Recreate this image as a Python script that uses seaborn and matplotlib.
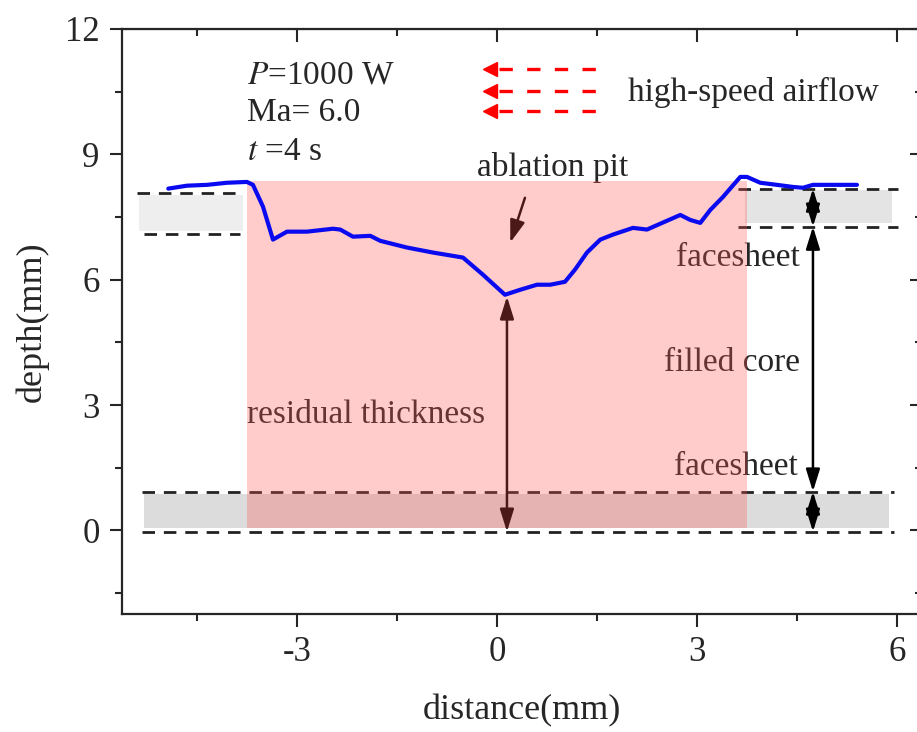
import matplotlib
matplotlib.use("Agg")
import matplotlib.pyplot as plt
import seaborn as sns
import pandas as pd
from matplotlib.ticker import MultipleLocator

# surface profile after ablation (mm)
prof_x = [-4.93, -4.65, -4.35, -4.05, -3.75, -3.66, -3.51, -3.36, -3.15, -2.85,
          -2.46, -2.35, -2.16, -1.90, -1.75, -1.35, -0.96, -0.51, -0.21, 0.12,
          0.35, 0.60, 0.80, 1.02, 1.17, 1.35, 1.55, 1.74, 2.04, 2.25,
          2.45, 2.75, 2.90, 3.05, 3.20, 3.39, 3.65, 3.75, 3.95, 4.20,
          4.44, 4.59, 4.74, 5.04, 5.40]
prof_y = [8.18, 8.25, 8.27, 8.32, 8.34, 8.27, 7.75, 6.96, 7.15, 7.15,
          7.22, 7.20, 7.03, 7.05, 6.93, 6.77, 6.65, 6.53, 6.12, 5.64,
          5.76, 5.88, 5.88, 5.95, 6.24, 6.65, 6.96, 7.08, 7.24, 7.20,
          7.34, 7.55, 7.43, 7.36, 7.67, 7.98, 8.46, 8.46, 8.32, 8.27,
          8.22, 8.20, 8.27, 8.27, 8.27]

# facesheet bands: (x0, x1, y0, y1, gray)
band_left = (-5.37, -3.81, 7.17, 8.03, "#eeeeee")
band_right = (3.72, 5.92, 7.36, 8.15, "#e4e4e4")
band_bottom = (-5.30, 5.88, 0.06, 0.86, "#dcdcdc")

# dashed boundary lines: (x0, x1, y)
dash_lines = [(-5.40, -3.90, 8.08), (-5.30, -3.85, 7.10),
              (3.62, 6.02, 8.18), (3.62, 6.02, 7.27),
              (-5.33, 5.95, 0.93), (-5.33, 5.95, -0.03)]

# ablation zone
pit_x = [-3.75, 3.75]
pit_top = 8.37
pit_bottom = 0.05

# airflow arrows
flow_y = [11.04, 10.52, 10.04]
flow_x0, flow_x1 = -0.22, 1.65

# dimension arrows (x, y_top, y_bottom)
dims = [(0.15, 5.60, -0.03), (4.74, 8.18, 7.27), (4.74, 7.27, 0.93), (4.74, 0.93, -0.03)]

sns.set_style("ticks")
plt.rcParams["font.family"] = ["Liberation Serif", "DejaVu Serif"]
plt.rcParams["mathtext.fontset"] = "stix"
plt.rcParams["axes.unicode_minus"] = False

fig = plt.figure(figsize=(9.17, 7.32), dpi=100)
ax = fig.add_axes([0.133, 0.1612, 0.8724, 0.7992])

# gray facesheet bands
for x0, x1, y0, y1, c in (band_left, band_right, band_bottom):
    ax.fill_between([x0, x1], y0, y1, color=c, lw=0, zorder=1)

for x0, x1, y in dash_lines:
    ax.plot([x0, x1], [y, y], color="#222222", lw=2.0, ls=(0, (4.5, 3.2)), zorder=2)

# profile
df = pd.DataFrame({"distance": prof_x, "depth": prof_y})
sns.lineplot(data=df, x="distance", y="depth", color="#0a0af0", lw=3.0,
             estimator=None, sort=False, ax=ax, zorder=6)

# pink ablation overlay drawn on top of the annotations
ax.fill_between(pit_x, pit_bottom, pit_top, color="#ff5555", alpha=0.3, lw=0, zorder=5)

# dimension arrows
for x, yt, yb in dims:
    ax.annotate("", xy=(x, yt), xytext=(x, yb),
                arrowprops=dict(arrowstyle="<|-|>,head_length=0.9,head_width=0.28",
                                mutation_scale=15, lw=1.8, color="black",
                                shrinkA=0, shrinkB=0), zorder=3)

# ablation pit pointer
ax.annotate("", xy=(0.20, 6.89), xytext=(0.42, 7.96),
            arrowprops=dict(arrowstyle="-|>,head_length=0.9,head_width=0.3",
                            mutation_scale=15, lw=1.8, color="black",
                            shrinkA=0, shrinkB=0), zorder=3)

# high-speed airflow arrows
for y in flow_y:
    ax.plot([flow_x0 + 0.25, flow_x1], [y, y], color="red", lw=2.4,
            ls=(0, (4.0, 4.3)), zorder=3)
    ax.plot([flow_x0 + 0.12], [y], marker="<", ms=10, color="red", mec="red", zorder=3)

fs = 24
ax.text(-3.75, 10.9, r"$\it{P}$=1000 W", fontsize=fs, va="center", zorder=3)
ax.text(-3.75, 10.0, "Ma= 6.0", fontsize=fs, va="center", zorder=3)
ax.text(-3.75, 9.06, r"$\it{t}$ =4 s", fontsize=fs, va="center", zorder=3)
ax.text(1.96, 10.47, "high-speed airflow", fontsize=fs, va="center", zorder=3)
ax.text(0.84, 8.68, "ablation pit", fontsize=fs, ha="center", va="center", zorder=3)
ax.text(4.55, 6.53, "facesheet", fontsize=fs, ha="right", va="center", zorder=3)
ax.text(4.55, 4.02, "filled core", fontsize=fs, ha="right", va="center", zorder=3)
ax.text(4.52, 1.53, "facesheet", fontsize=fs, ha="right", va="center", zorder=3)
ax.text(-3.75, 2.77, "residual thickness", fontsize=fs, ha="left", va="center", zorder=3)

ax.set_xlim(-5.625, 6.375)
ax.set_ylim(-2, 12)
ax.xaxis.set_major_locator(MultipleLocator(3))
ax.xaxis.set_minor_locator(MultipleLocator(1.5))
ax.yaxis.set_major_locator(MultipleLocator(3))
ax.yaxis.set_minor_locator(MultipleLocator(1.5))
ax.set_xlabel("distance(mm)", fontsize=26, labelpad=18)
ax.set_ylabel("depth(mm)", fontsize=26, labelpad=12)

for s in ax.spines.values():
    s.set_linewidth(1.6)
ax.spines["right"].set_visible(False)
ax.tick_params(which="major", direction="out", length=9, width=1.5, labelsize=25, pad=7)
ax.tick_params(which="minor", direction="out", length=5, width=1.5)

# mirrored inner ticks on top and right
top = ax.secondary_xaxis("top")
top.xaxis.set_major_locator(MultipleLocator(3))
top.xaxis.set_minor_locator(MultipleLocator(1.5))
top.tick_params(which="major", direction="in", length=9, width=1.5, labeltop=False)
top.tick_params(which="minor", direction="in", length=5, width=1.5)
right = ax.secondary_yaxis("right")
right.spines["right"].set_visible(False)
right.yaxis.set_major_locator(MultipleLocator(3))
right.yaxis.set_minor_locator(MultipleLocator(1.5))
right.tick_params(which="major", direction="in", length=9, width=1.5, labelright=False)
right.tick_params(which="minor", direction="in", length=5, width=1.5)

fig.savefig("out.png", dpi=100)
